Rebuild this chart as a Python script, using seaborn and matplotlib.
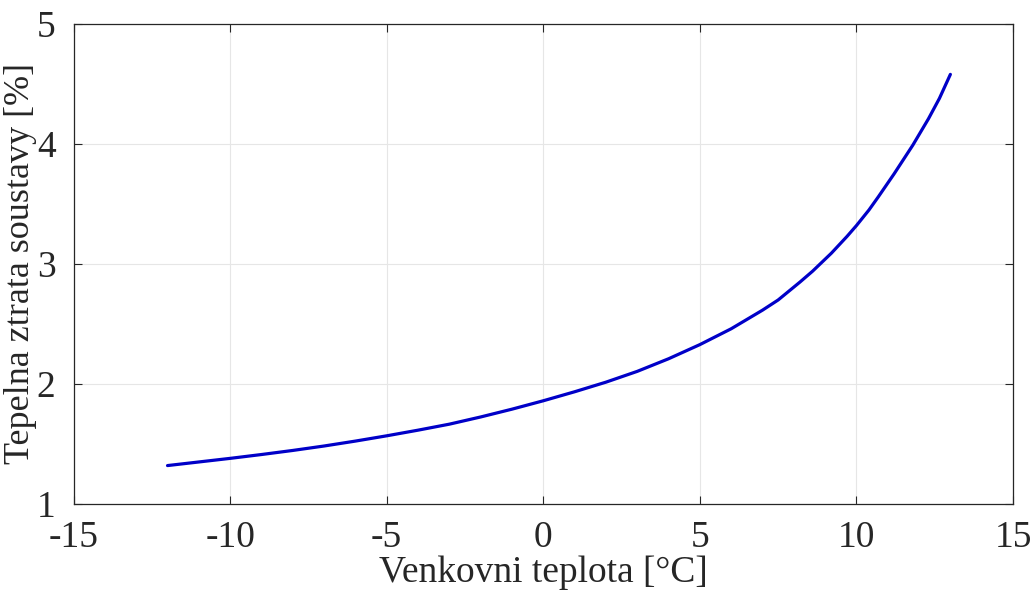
import matplotlib
matplotlib.use("Agg")
import matplotlib.pyplot as plt
import seaborn as sns
import numpy as np
import pandas as pd

# hodnoty
teplota = [-12, -11, -10, -9, -8, -7, -6, -5, -4, -3, -2, -1, 0, 1, 2, 3, 4,
           5, 6, 7, 7.5, 8.2, 8.6, 9.2, 9.7, 10, 10.4, 10.7, 11.2, 11.8, 12.3,
           12.65, 13]
ztrata = [1.32, 1.35, 1.38, 1.412, 1.446, 1.483, 1.524, 1.568, 1.615, 1.665,
          1.725, 1.79, 1.86, 1.935, 2.015, 2.105, 2.21, 2.328, 2.46, 2.615, 2.70,
          2.85, 2.94, 3.09, 3.23, 3.32, 3.45, 3.56, 3.75, 3.99, 4.21, 4.38, 4.58]
xticks = [-15, -10, -5, 0, 5, 10, 15]
yticks = [1, 2, 3, 4, 5]

sns.set_style("whitegrid")
plt.rcParams['font.family'] = ['Liberation Serif', 'DejaVu Serif']

df = pd.DataFrame({"teplota": teplota, "ztrata": ztrata})

fig = plt.figure(figsize=(10.32, 5.95), dpi=100)
ax = fig.add_axes([0.0713, 0.153, 0.9103, 0.8067])
sns.lineplot(data=df, x="teplota", y="ztrata", color="#0000C8", linewidth=2.3, ax=ax)

ax.set_xlim(-15, 15)
ax.set_ylim(1, 5)
ax.set_xticks(xticks)
ax.set_yticks(yticks)
ax.set_xticklabels([str(t) for t in xticks])
ax.set_yticklabels([str(t) for t in yticks])
ax.grid(True, color="#e6e6e6", linewidth=0.8)
for side in ["left", "right", "top", "bottom"]:
    ax.spines[side].set_visible(True)
    ax.spines[side].set_color("#262626")
    ax.spines[side].set_linewidth(0.9)
ax.tick_params(axis="both", direction="in", length=6, width=0.8, colors="#262626",
               labelsize=27, top=True, right=True, left=True, bottom=True)
ax.tick_params(axis="x", pad=12)
ax.tick_params(axis="y", pad=13)

ax.set_xlabel("Venkovni teplota [°C]", fontsize=27, color="#262626", labelpad=0)
ax.set_ylabel("Tepelna ztrata soustavy [%]", fontsize=26, color="#262626")
ax.yaxis.set_label_coords(-0.039, 0.5)

fig.savefig("out.png", dpi=100)
